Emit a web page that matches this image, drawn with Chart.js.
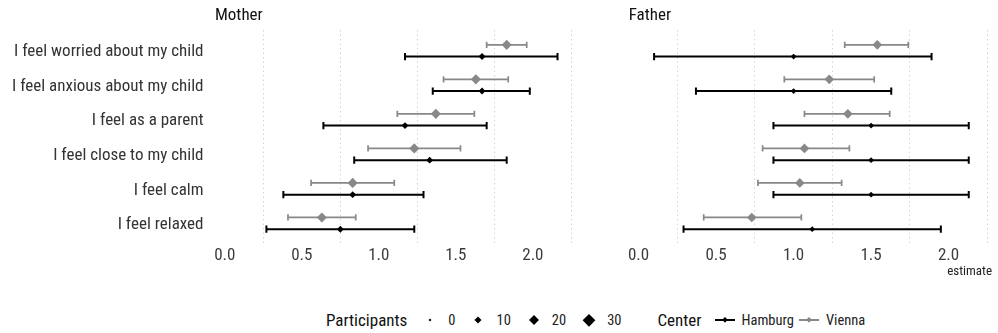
<!DOCTYPE html>
<html>
<head>
<meta charset="utf-8">
<script src="https://cdn.jsdelivr.net/npm/chart.js@4.4.1/dist/chart.umd.min.js"></script>
<style>
  body { margin: 0; background: #fff; width: 998px; height: 333px; overflow: hidden; position: relative;
         font-family: 'Roboto Condensed', 'Liberation Sans Narrow', 'DejaVu Sans Condensed', Roboto, sans-serif; }
  #mother { position: absolute; left: 0; top: 0; }
  #father { position: absolute; left: 600px; top: 0; }
  #legend { position: absolute; left: 0; top: 309px; width: 998px; height: 22px; padding-left: 326px; box-sizing: border-box;
            display: flex; align-items: center; justify-content: flex-start; color: #111; white-space: nowrap; }
  #legend .ttl { font-size: 17px; margin-right: 13px; }
  #legend .lab { font-size: 14.5px; margin-left: 8px; margin-right: 13px; color: #222; }
  #legend .key { position: relative; width: 20px; height: 14px; display: inline-block; }
  #legend .dia { position: absolute; left: 50%; top: 50%; transform: translate(-50%, -50%) rotate(45deg); }
  #legend .bar { position: absolute; left: 0; right: 0; top: 6px; height: 2px; }
</style>
</head>
<body>
<canvas id="mother" width="582" height="284"></canvas>
<canvas id="father" width="398" height="284"></canvas>
<div id="legend"></div>
<script>
// rows, top to bottom
const categories = [
    'I feel worried about my child',
    'I feel anxious about my child',
    'I feel as a parent',
    'I feel close to my child',
    'I feel calm',
    'I feel relaxed'
];
const xTickValues = [0, 0.5, 1.0, 1.5, 2.0];

// Mother - Hamburg
const motherHamburgEst = [1.67, 1.67, 1.17, 1.33, 0.83, 0.75];
const motherHamburgLo  = [1.17, 1.35, 0.64, 0.84, 0.38, 0.27];
const motherHamburgHi  = [2.16, 1.98, 1.70, 1.83, 1.29, 1.23];
const motherHamburgN   = [10, 10, 10, 10, 10, 10];
// Mother - Vienna
const motherViennaEst = [1.83, 1.63, 1.37, 1.23, 0.83, 0.63];
const motherViennaLo  = [1.70, 1.42, 1.12, 0.93, 0.56, 0.41];
const motherViennaHi  = [1.96, 1.84, 1.62, 1.53, 1.10, 0.85];
const motherViennaN   = [21, 21, 21, 21, 21, 21];
// Father - Hamburg
const fatherHamburgEst = [1.00, 1.00, 1.50, 1.50, 1.50, 1.12];
const fatherHamburgLo  = [0.10, 0.37, 0.87, 0.87, 0.87, 0.29];
const fatherHamburgHi  = [1.89, 1.63, 2.13, 2.13, 2.13, 1.95];
const fatherHamburgN   = [7, 7, 7, 7, 7, 7];
// Father - Vienna
const fatherViennaEst = [1.54, 1.23, 1.35, 1.07, 1.04, 0.73];
const fatherViennaLo  = [1.33, 0.94, 1.07, 0.80, 0.77, 0.42];
const fatherViennaHi  = [1.74, 1.52, 1.62, 1.36, 1.31, 1.05];
const fatherViennaN   = [19, 19, 19, 19, 19, 19];

const participantSteps = [0, 10, 20, 30];
const centers = ['Hamburg', 'Vienna'];
const centerColors = { Hamburg: '#000000', Vienna: '#888888' };

const fontFamily = "'Roboto Condensed', 'Liberation Sans Narrow', 'DejaVu Sans Condensed', Roboto, sans-serif";
Chart.defaults.font.family = fontFamily;
Chart.defaults.animation = false;

// diamond radius from participants (area scale)
function sizeOf(n) {
    return Math.max(1.4, 1.1 * Math.sqrt(n));
}

const nRows = categories.length;
const rowY = i => nRows - i;
const dodge = { Hamburg: -0.17, Vienna: 0.17 };

function barData(lo, hi, center) {
    const out = [];
    lo.forEach((v, i) => {
        const y = rowY(i) + dodge[center];
        out.push({ x: v, y: y }, { x: hi[i], y: y }, { x: null, y: null });
    });
    return out;
}

function pointData(est, center) {
    return est.map((v, i) => ({ x: v, y: rowY(i) + dodge[center] }));
}

// facet strip label, left aligned over the panel
const stripTitle = {
    id: 'stripTitle',
    afterDraw(chart, args, opts) {
        const ctx = chart.ctx;
        ctx.save();
        ctx.font = '17px ' + fontFamily;
        ctx.fillStyle = '#111';
        ctx.textBaseline = 'middle';
        ctx.textAlign = 'left';
        ctx.fillText(opts.text, chart.chartArea.left + 2.5, 16);
        ctx.restore();
    }
};

function makePanel(canvasId, title, groups, isLeft) {
    const datasets = [];
    // diamonds first so they sit on top
    groups.forEach(g => {
        datasets.push({
            label: g.center,
            data: pointData(g.est, g.center),
            showLine: false,
            pointStyle: 'rectRot',
            pointRadius: g.n.map(sizeOf),
            pointBackgroundColor: centerColors[g.center],
            pointBorderWidth: 0
        });
    });
    groups.forEach(g => {
        const black = g.center === 'Hamburg';
        datasets.push({
            label: g.center + ' CI',
            data: barData(g.lo, g.hi, g.center),
            showLine: true,
            spanGaps: false,
            borderColor: centerColors[g.center],
            borderWidth: black ? 2 : 1.7,
            pointStyle: 'line',
            rotation: 90,
            pointRadius: black ? 3.6 : 3.2,
            pointBorderColor: centerColors[g.center],
            pointBorderWidth: black ? 2 : 1.7
        });
    });

    return new Chart(document.getElementById(canvasId), {
        type: 'scatter',
        data: { datasets: datasets },
        plugins: [stripTitle],
        options: {
            responsive: false,
            events: [],
            layout: { padding: isLeft ? { left: 0, right: 1.8, top: 30 } : { left: 26.2, right: 4, top: 30 } },
            plugins: {
                legend: { display: false },
                tooltip: { enabled: false },
                title: { display: false },
                stripTitle: { text: title }
            },
            scales: {
                x: {
                    type: 'linear',
                    min: -0.08,
                    max: 2.28,
                    afterBuildTicks: scale => {
                        const vals = [];
                        xTickValues.forEach(v => { vals.push(v, v + 0.25); });
                        scale.ticks = vals.map(v => ({ value: v }));
                    },
                    afterFit: scale => { scale.height = 40; },
                    ticks: {
                        autoSkip: false,
                        maxRotation: 0,
                        padding: 2,
                        color: '#3c3c3c',
                        font: { size: 17 },
                        callback: v => xTickValues.includes(v) ? v.toFixed(1) : ''
                    },
                    grid: {
                        drawTicks: false,
                        lineWidth: 1,
                        color: ctx => (ctx.tick && xTickValues.includes(ctx.tick.value)) ? 'rgba(0,0,0,0)' : '#d4d4d4'
                    },
                    border: { display: false, dash: [1.5, 3] },
                    title: {
                        display: !isLeft,
                        text: 'estimate',
                        align: 'end',
                        color: '#222',
                        font: { size: 13 },
                        padding: { top: 0, bottom: 4.2 }
                    }
                },
                y: {
                    type: 'linear',
                    display: isLeft,
                    min: 0.4,
                    max: 6.6,
                    afterBuildTicks: scale => {
                        scale.ticks = categories.map((c, i) => ({ value: rowY(i) }));
                    },
                    afterFit: scale => { if (isLeft) scale.width = 212.5; },
                    ticks: {
                        padding: 9,
                        labelOffset: 1.5,
                        color: '#333',
                        font: { size: 17 },
                        callback: v => categories[nRows - v]
                    },
                    grid: { display: false, drawTicks: false },
                    border: { display: false }
                }
            }
        }
    });
}

makePanel('mother', 'Mother', [
    { center: 'Hamburg', est: motherHamburgEst, lo: motherHamburgLo, hi: motherHamburgHi, n: motherHamburgN },
    { center: 'Vienna', est: motherViennaEst, lo: motherViennaLo, hi: motherViennaHi, n: motherViennaN }
], true);

makePanel('father', 'Father', [
    { center: 'Hamburg', est: fatherHamburgEst, lo: fatherHamburgLo, hi: fatherHamburgHi, n: fatherHamburgN },
    { center: 'Vienna', est: fatherViennaEst, lo: fatherViennaLo, hi: fatherViennaHi, n: fatherViennaN }
], false);

// legend
const legend = document.getElementById('legend');
let html = '<span class="ttl">Participants</span>';
participantSteps.forEach(n => {
    const side = (sizeOf(n) * Math.SQRT2).toFixed(2);
    html += '<span class="key"><span class="dia" style="width:' + side + 'px;height:' + side + 'px;background:#000"></span></span>';
    html += '<span class="lab">' + n + '</span>';
});
html += '<span class="ttl" style="margin-left:23px;margin-right:13px">Center</span>';
centers.forEach(c => {
    const side = (3 * Math.SQRT2).toFixed(2);
    html += '<span class="key"><span class="bar" style="background:' + centerColors[c] + '"></span>' +
            '<span class="dia" style="width:' + side + 'px;height:' + side + 'px;background:' + centerColors[c] + '"></span></span>';
    html += '<span class="lab" style="margin-left:7px;margin-right:5px">' + c + '</span>';
});
legend.innerHTML = html;
</script>
</body>
</html>
